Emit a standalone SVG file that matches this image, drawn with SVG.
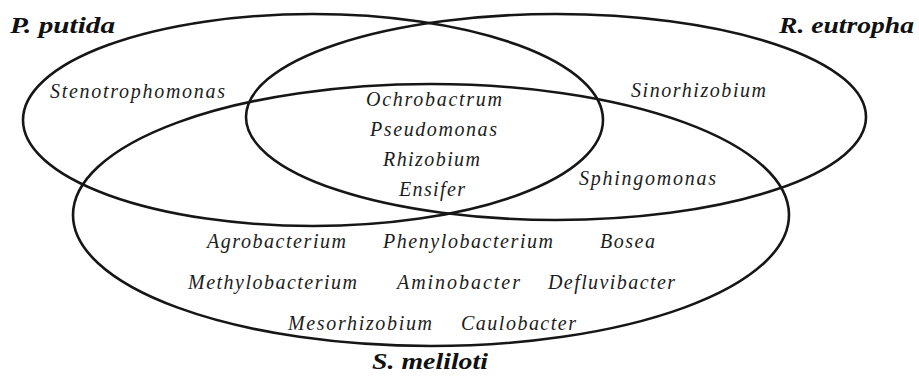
<svg xmlns="http://www.w3.org/2000/svg" width="919" height="378" viewBox="0 0 919 378">
<style>
.set{fill:none;stroke:#161616;stroke-width:2.6}
.t{font-family:"Liberation Serif","Times New Roman",serif;font-style:italic;font-size:20px;fill:#1c1c1c}
.h{font-family:"Liberation Serif","Times New Roman",serif;font-style:italic;font-weight:bold;font-size:23px;fill:#111}
</style>
<rect width="919" height="378" fill="#fff"/>
<g id="connectors"/>
<g id="set-putida">
<ellipse class="set" cx="313" cy="120" rx="290" ry="106"/>
<text class="h" x="10" y="33" textLength="105" lengthAdjust="spacingAndGlyphs">P. putida</text>
</g>
<g id="set-eutropha">
<ellipse class="set" cx="556" cy="117" rx="310" ry="103"/>
<text class="h" x="779" y="33" textLength="135" lengthAdjust="spacingAndGlyphs">R. eutropha</text>
</g>
<g id="set-meliloti">
<ellipse class="set" cx="431" cy="215" rx="358" ry="131"/>
<text class="h" x="372" y="369" textLength="116" lengthAdjust="spacingAndGlyphs">S. meliloti</text>
</g>
<g id="labels">
<text class="t" x="50" y="98" textLength="175">Stenotrophomonas</text>
<text class="t" x="631" y="97" textLength="135">Sinorhizobium</text>
<text class="t" x="579" y="185" textLength="137">Sphingomonas</text>
<text class="t" x="366" y="106" textLength="136">Ochrobactrum</text>
<text class="t" x="370" y="136" textLength="127">Pseudomonas</text>
<text class="t" x="383" y="166" textLength="97">Rhizobium</text>
<text class="t" x="399" y="196" textLength="66">Ensifer</text>
<text class="t" x="207" y="248" textLength="139">Agrobacterium</text>
<text class="t" x="383" y="248" textLength="170">Phenylobacterium</text>
<text class="t" x="600" y="248" textLength="55">Bosea</text>
<text class="t" x="188" y="289" textLength="169">Methylobacterium</text>
<text class="t" x="397" y="289" textLength="123">Aminobacter</text>
<text class="t" x="548" y="289" textLength="127">Defluvibacter</text>
<text class="t" x="288" y="330" textLength="144">Mesorhizobium</text>
<text class="t" x="461" y="330" textLength="115">Caulobacter</text>
</g>
</svg>
